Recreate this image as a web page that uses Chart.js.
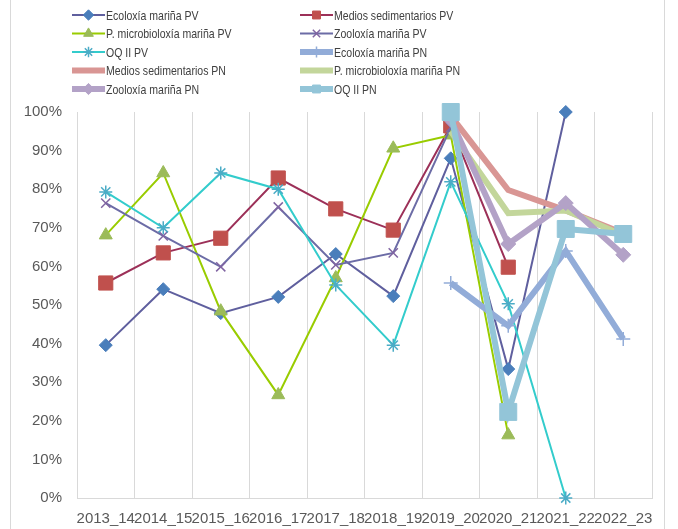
<!DOCTYPE html>
<html>
<head>
<meta charset="utf-8">
<script src="https://cdn.jsdelivr.net/npm/chart.js@4.4.1/dist/chart.umd.min.js"></script>
<style>
  html, body { margin: 0; padding: 0; background: #fff; }
  #wrap { position: relative; width: 678px; height: 529px; }
  #frame { position: absolute; left: 10px; top: -2px; width: 653px; height: 540px;
           border-left: 1px solid #d9d9d9; border-right: 1px solid #d9d9d9; pointer-events: none; }
</style>
</head>
<body>
<div id="wrap">
  <canvas id="grafico" width="678" height="529"></canvas>
  <div id="frame"></div>
</div>
<script>
// Cursos
const cursos = ["2013_14", "2014_15", "2015_16", "2016_17", "2017_18", "2018_19", "2019_20", "2020_21", "2021_22", "2022_23"];

// Series (porcentaxes)
const ecoloxiaPV = [39.6, 54.1, 47.9, 52.1, 63.2, 52.3, 88, 33.4, 100, null];
const mediosPV = [55.7, 63.5, 67.3, 82.9, 74.9, 69.4, 96.4, 59.8, null, null];
const microPV = [68.1, 84.2, 48.4, 26.7, 57, 90.6, 94, 16.3, null, null];
const zooloxiaPV = [76.4, 67.9, 59.9, 75.4, 60.4, 63.5, 96, null, null, null];
const oqPV = [79.3, 70, 84.2, 80, 55.2, 39.6, 81.9, 50.3, 0, null];
const ecoloxiaPN = [null, null, null, null, null, null, 55.7, 44.6, 64, 41.2];
const mediosPN = [null, null, null, null, null, null, 99, 79.8, 74.5, 68.6];
const microPN = [null, null, null, null, null, null, 95, 73.8, 74.5, 68.1];
const zooloxiaPN = [null, null, null, null, null, null, 98, 65.8, 76.4, 63];
const oqPN = [null, null, null, null, null, null, 100, 22.3, 69.7, 68.4];

const etiquetasY = ["0%", "10%", "20%", "30%", "40%", "50%", "60%", "70%", "80%", "90%", "100%"];

function serie(nome, datos, linea, marca, estilo, radio, grosor) {
    return {
        label: nome,
        data: datos,
        borderColor: linea,
        backgroundColor: marca,
        pointBackgroundColor: marca,
        pointBorderColor: marca,
        pointStyle: estilo,
        pointRadius: radio,
        pointBorderWidth: (estilo === "crossRot" || estilo === "star" || estilo === "cross") ? 1.5 : 1,
        borderWidth: grosor,
        tension: 0,
        spanGaps: false,
        clip: false
    };
}

const series = [
    serie("Ecoloxía mariña PV", ecoloxiaPV, "#5f5f9e", "#4a7ebb", "rectRot", 6.5, 2),
    serie("Medios sedimentarios PV", mediosPV, "#9c3058", "#c0504d", "rect", 10, 2),
    serie("P. microbioloxía mariña PV", microPV, "#99cc00", "#9bbb59", "triangle", 7.5, 2),
    serie("Zooloxía mariña PV", zooloxiaPV, "#6c6ca6", "#8064a2", "crossRot", 6.5, 2),
    serie("OQ II PV", oqPV, "#33cccc", "#4bacc6", "star", 6.5, 2),
    serie("Ecoloxía mariña PN", ecoloxiaPN, "#92acd8", "#92acd8", "cross", 7, 6),
    serie("Medios sedimentarios PN", mediosPN, "#d99694", "#d99694", "circle", 0, 6),
    serie("P. microbioloxía mariña PN", microPN, "#c3d69b", "#c3d69b", "circle", 0, 6),
    serie("Zooloxía mariña PN", zooloxiaPN, "#b3a2c7", "#b3a2c7", "rectRot", 7.5, 6),
    serie("OQ II PN", oqPN, "#93c5d8", "#93c5d8", "rect", 12, 6)
];
series.forEach((s, i) => { s.order = series.length - i; });

// Lenda en dúas columnas (texto estreito como Calibri)
const lendaPlugin = {
    id: "lenda",
    afterDraw(chart) {
        const ctx = chart.ctx;
        const escala = 0.78;
        ctx.save();
        ctx.font = "13.5px 'Liberation Sans', sans-serif";
        ctx.textBaseline = "middle";
        chart.data.datasets.forEach((ds, i) => {
            const x0 = i % 2 === 0 ? 72 : 300;
            const y = 15 + Math.floor(i / 2) * 18.5;
            ctx.strokeStyle = ds.borderColor;
            ctx.lineWidth = ds.borderWidth;
            ctx.beginPath();
            ctx.moveTo(x0, y);
            ctx.lineTo(x0 + 33, y);
            ctx.stroke();
            if (ds.pointRadius > 0) {
                ctx.fillStyle = ds.pointBackgroundColor;
                ctx.strokeStyle = ds.pointBorderColor;
                ctx.lineWidth = ds.pointBorderWidth;
                Chart.helpers.drawPoint(ctx, {
                    pointStyle: ds.pointStyle,
                    radius: Math.min(ds.pointRadius, 7) * 0.8,
                    rotation: 0,
                    borderWidth: ds.pointBorderWidth
                }, x0 + 16.5, y);
            }
            ctx.save();
            ctx.scale(escala, 1);
            ctx.fillStyle = "#404040";
            ctx.fillText(ds.label, (x0 + 34) / escala, y + 1);
            ctx.restore();
        });
        ctx.restore();
    }
};

new Chart(document.getElementById("grafico"), {
    type: "line",
    data: {
        labels: cursos,
        datasets: series
    },
    options: {
        responsive: false,
        animation: false,
        layout: { padding: { top: 112, right: 26, left: 0, bottom: 0 } },
        plugins: {
            legend: { display: false },
            tooltip: { enabled: false }
        },
        scales: {
            x: {
                offset: true,
                grid: { color: "#d9d9d9", offset: true, drawTicks: false },
                border: { color: "#d9d9d9" },
                ticks: {
                    autoSkip: false,
                    maxRotation: 0,
                    padding: 12,
                    color: "#595959",
                    font: { family: "'Liberation Sans', sans-serif", size: 15 }
                },
                afterFit: (s) => { s.height = 31; }
            },
            y: {
                min: 0,
                max: 100,
                grid: { display: false, drawTicks: false },
                border: { color: "#d9d9d9" },
                ticks: {
                    stepSize: 10,
                    padding: 15,
                    color: "#595959",
                    font: { family: "'Liberation Sans', sans-serif", size: 15 },
                    callback: (v) => etiquetasY[Math.round(v / 10)]
                },
                afterFit: (s) => { s.width = 77; }
            }
        }
    },
    plugins: [lendaPlugin]
});
</script>
</body>
</html>
